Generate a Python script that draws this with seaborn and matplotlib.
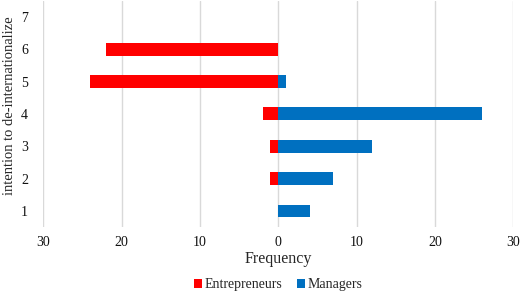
import pandas as pd
import matplotlib.pyplot as plt
import seaborn as sns
from matplotlib.ticker import FuncFormatter

# intention levels, top to bottom
levels = ['7', '6', '5', '4', '3', '2', '1']
entrepreneurs = [0, 22, 24, 2, 1, 1, 0]
managers = [0, 0, 1, 26, 12, 7, 4]

df = pd.concat([
    pd.DataFrame({'level': levels, 'value': [-v for v in entrepreneurs], 'group': 'Entrepreneurs'}),
    pd.DataFrame({'level': levels, 'value': managers, 'group': 'Managers'}),
])

sns.set_style('white')
plt.rcParams['font.family'] = ['Liberation Serif', 'DejaVu Serif']

fig, ax = plt.subplots(figsize=(5.2, 2.92), dpi=100)
fig.subplots_adjust(left=0.083, right=0.987, top=0.998, bottom=0.222)

sns.barplot(data=df, y='level', x='value', hue='group', order=levels,
            orient='h', dodge=False, width=0.4, saturation=1,
            palette={'Entrepreneurs': '#FF0000', 'Managers': '#0070C0'},
            linewidth=0, ax=ax, zorder=3)

ax.set_xlim(-30, 30)
ax.set_xticks([-30, -20, -10, 0, 10, 20, 30])
ax.xaxis.set_major_formatter(FuncFormatter(lambda v, p: f'{abs(int(v))}'))
ax.grid(axis='x', color='#D9D9D9', linewidth=1, zorder=0)
ax.set_axisbelow(True)
for s in ax.spines.values():
    s.set_visible(False)
ax.tick_params(length=0, labelsize=10, colors='#111111', pad=6)
ax.tick_params(axis='y', pad=11)

ax.set_xlabel('Frequency', fontsize=11.5, labelpad=2)
ax.set_ylabel('intention to de-internationalize', fontsize=10.5)
ax.yaxis.set_label_coords(-0.058, 0.535)

ax.legend(loc='upper center', bbox_to_anchor=(0.5, -0.2), ncol=2, frameon=False,
          fontsize=10, handlelength=0.6, handleheight=0.6, handletextpad=0.2,
          columnspacing=1.0, borderaxespad=0)

plt.savefig('out.png', dpi=100)
